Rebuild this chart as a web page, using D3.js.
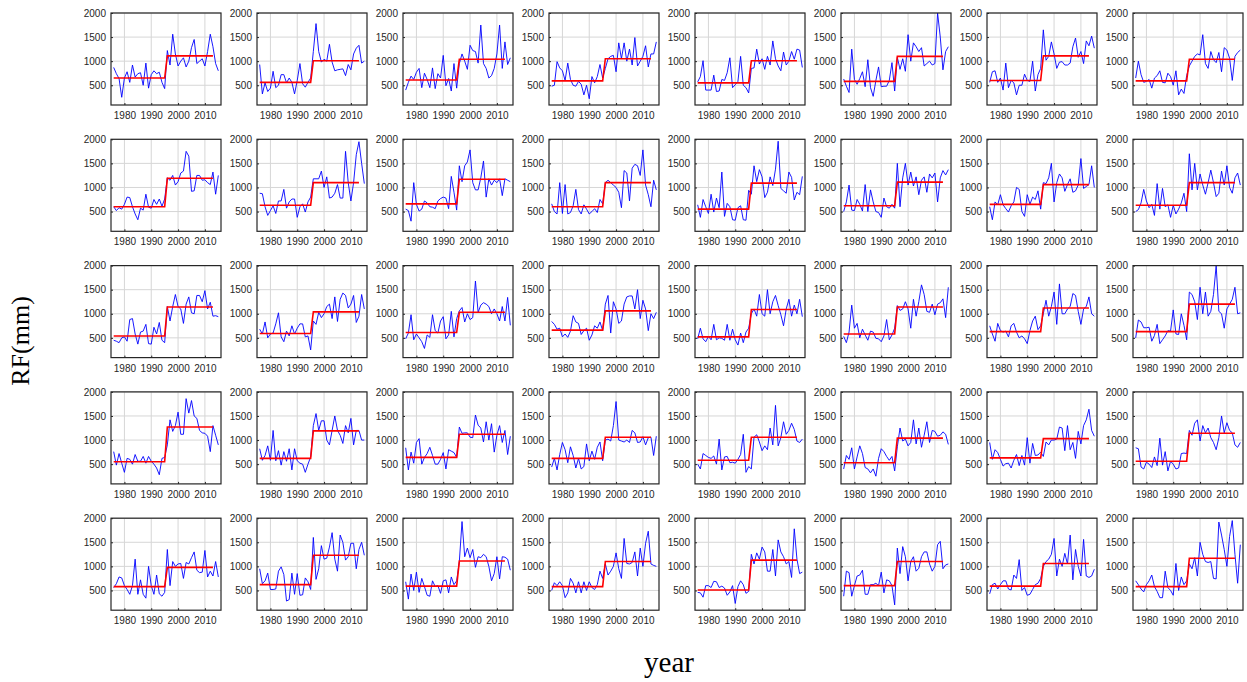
<!DOCTYPE html>
<html>
<head>
<meta charset="utf-8">
<script src="https://cdn.jsdelivr.net/npm/d3@7"></script>
<style>
  html, body { margin: 0; padding: 0; background: #ffffff; }
  svg { display: block; }
</style>
</head>
<body>
<svg id="chart" width="1247" height="682"></svg>
<script>
// ---- data ----
const firstYear = 1976, lastYear = 2015;
const years = d3.range(firstYear, lastYear + 1);
const xTicks = [1980, 1990, 2000, 2010];
const yTicks = [500, 1000, 1500, 2000];
const shiftFrom = 1995, shiftTo = 1996, stepEnd = 2013;

// annual rainfall (mm), 1976-2015, one list per station (row by row)
const rainfall = [
  // row 1
  [870,740,640,250,650,780,560,920,670,740,760,500,960,440,720,800,740,770,560,430, 1220,920,1560,1150,900,1000,1070,880,1000,1280,1450,950,1000,1050,900,1200,1560,1300,950,800],
  [930,320,550,370,440,790,450,500,720,720,550,650,560,320,600,950,530,460,560,650, 1200,1780,1200,980,1040,1000,1350,980,800,820,830,840,700,930,820,1150,1270,1330,960,1000],
  [400,560,690,620,770,850,450,750,620,450,860,430,740,650,1120,490,640,380,950,440, 950,1150,1000,830,1330,1220,1200,960,1750,950,850,650,700,850,1150,1750,850,1400,930,1070],
  [480,500,990,860,800,600,960,620,500,480,580,520,300,500,220,680,550,680,930,650, 850,1050,1100,1120,780,1380,1050,1380,1000,1250,920,1490,900,1000,1100,1320,880,1150,1150,1400],
  [570,680,1010,400,400,400,710,370,380,620,600,760,1070,450,510,580,1100,500,450,340, 850,860,1250,940,1050,830,1100,920,1420,1050,900,800,1190,920,1000,1200,1040,1250,1230,870],
  [630,480,350,1250,620,520,640,780,470,1030,450,270,600,880,470,480,480,600,970,380, 1080,830,1050,790,1550,1000,1380,1300,1200,1280,900,950,1000,920,950,2000,1500,820,1200,1300],
  [560,780,800,560,650,400,960,450,600,550,300,500,500,730,600,580,1000,380,720,850, 1650,1020,1100,1400,1150,850,980,990,920,920,960,1300,1480,1080,1200,950,1420,1320,1520,1270],
  [650,1000,720,560,580,620,440,650,700,800,560,550,750,680,500,800,300,420,330,700, 900,1000,1100,1150,1130,1550,950,850,1200,1030,970,1180,780,1280,1230,1060,600,1100,1180,1230],
  // row 2
  [600,520,580,550,650,800,790,600,450,330,570,530,860,590,570,750,650,760,610,760, 1200,1150,1250,1050,1120,1300,1340,1750,1650,920,930,1250,1250,1150,1160,1100,1060,1320,860,1250],
  [880,870,600,420,520,620,460,720,720,960,570,700,760,760,380,600,660,490,700,800, 1180,1180,1180,1340,1000,1220,780,800,880,1060,780,780,1750,1100,720,1100,1680,1950,1500,1080],
  [550,520,300,1100,650,510,550,720,680,600,590,560,720,770,800,780,560,1230,900,530, 1450,1120,1450,1530,1780,1100,950,950,1200,1550,800,1180,1050,1150,1100,1180,830,1180,1150,1120],
  [660,500,450,1100,460,1060,450,480,620,960,540,450,640,550,450,500,560,480,750,660, 1100,1150,1100,1050,1000,900,580,1350,1300,720,1400,1480,1450,1250,1780,1050,850,600,1150,950],
  [640,380,750,600,460,860,490,780,580,1320,400,670,600,330,320,580,620,330,320,940, 860,1450,1120,1370,1220,790,900,1220,1040,1380,1960,980,930,880,1320,1210,740,900,850,1230],
  [500,700,1050,530,520,750,650,510,1060,500,950,700,500,480,380,780,600,570,650,570, 1500,600,1200,1500,1050,1320,1030,1220,850,1150,1220,900,1280,1200,1300,700,1200,1350,1260,1370],
  [600,330,700,640,850,640,560,490,620,700,1000,960,500,400,850,650,800,750,930,550, 1100,1080,1200,1500,700,1100,1280,1200,920,1060,1180,900,930,1050,1600,980,1020,1060,1450,1000],
  [500,540,680,960,720,580,650,420,1080,550,980,600,640,380,630,450,550,680,880,500, 1700,950,1500,950,1280,1050,860,1100,1360,1100,810,880,1340,1050,1450,1000,880,1200,1300,1050],
  // row 3
  [450,430,400,500,520,430,880,900,580,370,620,640,780,380,370,720,580,820,450,400, 1150,850,1150,1400,1150,1100,800,1200,1350,1020,1000,1380,1380,1250,1480,1100,1240,950,960,940],
  [680,580,830,500,580,600,790,1020,520,420,640,540,750,580,700,790,790,520,540,250, 850,780,1030,920,1000,1150,1200,900,1350,840,1300,1430,1380,1120,1200,1380,820,950,1400,1100],
  [480,600,980,460,580,500,420,280,560,510,980,650,600,850,940,480,560,1050,520,900, 1060,1130,830,1000,880,920,1680,1030,1180,1230,1200,1150,1000,1100,1000,850,1150,850,1340,760],
  [840,780,680,700,520,580,510,640,960,830,800,570,650,700,450,560,750,700,830,650, 1200,1380,600,1250,1100,800,850,1200,1350,1370,1370,1100,1500,900,1280,1100,650,1000,900,1030],
  [480,700,480,420,530,460,780,460,500,490,450,780,450,680,460,350,600,400,620,700, 1000,1100,950,1400,1000,950,1500,1000,1250,1380,1170,980,750,1100,1300,950,1180,1000,1300,940],
  [530,400,620,1180,700,800,500,680,560,450,640,620,490,480,420,540,880,460,560,700, 1170,1070,1100,1250,1100,700,1300,950,1250,1600,1400,1050,1030,1200,980,1200,1230,1310,920,1550],
  [750,580,430,800,650,620,640,520,750,800,620,500,540,480,380,650,850,950,670,750, 1000,1280,950,1150,1450,780,1620,1000,1000,1100,1150,1420,1380,1050,780,1100,1150,1350,1000,950],
  [500,870,830,710,710,720,430,550,780,380,460,540,650,640,1080,580,570,1000,760,460, 1450,1400,1250,880,1550,1000,1450,950,1050,1400,2000,1050,1000,700,1100,1200,1300,1550,1000,1020],
  // row 4
  [760,480,720,520,330,620,600,500,700,560,560,660,520,660,560,500,420,280,620,640, 900,1420,1180,1300,1580,1120,1120,1860,1560,1820,1500,1450,1200,1150,1140,1080,760,1300,1100,900],
  [820,580,680,880,580,1200,570,780,480,760,560,820,380,820,570,520,500,330,500,650, 1300,1550,1200,1400,1400,1000,900,1200,1500,1200,1100,930,1300,1150,1450,900,1200,1200,1000,1000],
  [840,380,750,520,950,1030,500,640,720,850,680,500,500,600,740,400,800,770,740,640, 1270,1140,1150,1150,1060,1050,1520,1310,1250,960,1380,1000,1340,750,1100,1300,950,1200,700,1080],
  [440,620,380,700,950,800,530,860,680,420,620,400,450,920,570,770,600,850,960,570, 1000,1020,980,1300,1800,1000,980,960,1000,950,1200,1150,950,960,1070,900,1050,1060,680,1080],
  [500,400,720,680,640,620,670,500,1020,380,650,660,530,540,520,600,700,1120,330,450, 400,1060,1110,960,780,880,800,1250,900,1720,880,1050,1380,1120,1200,1350,1220,980,950,1020],
  [400,680,600,840,400,650,880,720,430,400,320,400,250,620,820,760,660,580,660,360, 860,1250,980,1020,880,950,1420,920,1250,850,1100,1380,950,1200,1180,1080,1100,1170,1120,910],
  [950,600,800,740,600,460,510,520,420,580,700,470,680,480,1050,520,930,680,690,750, 660,960,900,1000,1000,1020,1270,1250,780,1300,800,950,620,1180,920,1300,1420,1640,1200,1080],
  [840,820,440,400,540,500,430,650,470,1040,480,760,360,560,500,400,420,720,730,720, 1200,1100,1350,1420,980,1300,1150,1250,1050,950,800,1050,1500,1150,1360,1200,1150,900,850,950],
  // row 5
  [560,640,780,760,600,520,420,600,1150,420,720,420,340,1000,600,420,820,430,380,460, 1350,600,1100,1000,1050,1060,750,1080,1050,1180,1300,920,870,880,1330,780,900,800,1100,780],
  [950,640,700,860,520,520,530,900,990,830,280,310,860,420,850,400,410,760,680,520, 1600,730,950,1430,1150,1170,1400,1700,1150,900,1650,1500,1130,1200,1480,1480,950,1350,1500,1230],
  [680,320,840,500,880,460,750,580,400,380,700,580,600,440,700,720,450,780,620,700, 1100,1930,1200,1380,1180,1350,980,1200,1180,1250,1200,1000,700,850,1200,740,1200,1190,1150,920],
  [500,660,600,680,600,350,450,750,650,450,680,450,680,500,680,560,520,620,900,750, 1050,820,900,1000,1280,950,750,1580,1060,1050,1080,1300,800,1380,1000,1480,1730,1050,1020,1000],
  [460,450,360,600,600,560,690,680,560,590,550,400,470,600,230,580,700,620,440,480, 1250,1050,1280,1150,1400,1300,900,900,1350,800,1550,1300,1200,1050,1100,770,1780,1150,850,880],
  [380,900,870,380,600,800,820,920,420,420,620,620,650,600,880,450,720,700,600,200, 1380,850,1410,1200,700,1100,1200,900,960,1200,1300,1300,1050,900,1000,1450,1520,950,1030,1050],
  [430,620,650,530,620,700,700,530,510,820,750,1140,500,560,400,420,520,620,650,750, 1000,1100,1150,1250,1580,800,1150,1000,1270,1050,1650,720,1350,1000,800,1560,800,770,800,940],
  [700,620,530,470,620,700,820,580,480,350,350,900,560,500,400,1060,500,780,620,700, 1050,950,1180,800,1500,1250,1100,1080,1100,750,740,1920,1650,1350,1000,1620,1950,1250,650,1450]
];

// mean before / after the change point for each station
const meanBefore = [650,560,610,590,550,580,600,590, 600,630,660,600,550,620,650,630, 540,590,610,660,520,580,630,630, 550,620,640,620,580,530,630,560, 580,620,590,580,510,600,590,580];
const meanAfter  = [1110,1010,1040,1050,1010,1100,1110,1040, 1190,1100,1170,1100,1090,1110,1060,1100, 1140,1040,1030,1060,1090,1140,1120,1200, 1270,1190,1120,1060,1060,1040,1030,1140, 980,1230,1110,1100,1130,1100,1060,1170];

// ---- layout ----
const nCols = 8;
const left0 = 111, colStep = 146, top0 = 13, rowStep = 126.3;
const pw = 110, ph = 92;
const axisColor = "#262626";

const svg = d3.select("#chart");

const x = d3.scaleLinear().domain([1975, 2016]).range([0, pw]);
const y = d3.scaleLinear().domain([90, 2000]).range([ph, 0]);

const blueLine = d3.line().x((d, i) => x(years[i])).y(d => y(d));
const redLine = d3.line().x(d => x(d[0])).y(d => y(d[1]));

rainfall.forEach((vals, k) => {
  const r = Math.floor(k / nCols), c = k % nCols;
  const g = svg.append("g")
    .attr("transform", `translate(${left0 + c * colStep},${top0 + r * rowStep})`);

  // grid
  g.append("g").selectAll("line").data(xTicks).join("line")
    .attr("x1", d => x(d)).attr("x2", d => x(d))
    .attr("y1", 0).attr("y2", ph)
    .attr("stroke", "#d6d6d6").attr("stroke-width", 1);
  g.append("g").selectAll("line").data(yTicks).join("line")
    .attr("x1", 0).attr("x2", pw)
    .attr("y1", d => y(d)).attr("y2", d => y(d))
    .attr("stroke", "#d6d6d6").attr("stroke-width", 1);

  // axes
  const ya = g.append("g").call(d3.axisLeft(y).tickValues(yTicks).tickSize(-2).tickPadding(5).tickFormat(d3.format("d")));
  const xa = g.append("g").attr("transform", `translate(0,${ph})`)
    .call(d3.axisBottom(x).tickValues(xTicks).tickSize(-2).tickPadding(7).tickFormat(d3.format("d")));
  [ya, xa].forEach(a => {
    a.select(".domain").remove();
    a.selectAll("line").attr("stroke", axisColor);
    a.selectAll("text").attr("fill", axisColor)
      .style("font-family", "'Liberation Sans', Arial, Helvetica, sans-serif")
      .style("font-size", "10px");
  });

  // blue rainfall line
  g.append("path").datum(vals)
    .attr("d", blueLine)
    .attr("fill", "none").attr("stroke", "#0000ff").attr("stroke-width", 0.9);

  // red step line (means)
  const steps = [[firstYear, meanBefore[k]], [shiftFrom, meanBefore[k]], [shiftTo, meanAfter[k]], [stepEnd, meanAfter[k]]];
  g.append("path").datum(steps)
    .attr("d", redLine)
    .attr("fill", "none").attr("stroke", "#ff0000").attr("stroke-width", 1.6);

  // box
  g.append("rect").attr("x", 0).attr("y", 0).attr("width", pw).attr("height", ph)
    .attr("fill", "none").attr("stroke", axisColor).attr("stroke-width", 1.2);
});

// axis titles
svg.append("text")
  .attr("transform", "translate(29,341) rotate(-90)")
  .attr("text-anchor", "middle")
  .style("font-family", "'Liberation Serif', 'Times New Roman', serif")
  .style("font-size", "26px")
  .attr("fill", "#000")
  .text("RF(mm)");

svg.append("text")
  .attr("x", 669).attr("y", 672)
  .attr("text-anchor", "middle")
  .style("font-family", "'Liberation Serif', 'Times New Roman', serif")
  .style("font-size", "29px")
  .attr("fill", "#000")
  .text("year");
</script>
</body>
</html>
